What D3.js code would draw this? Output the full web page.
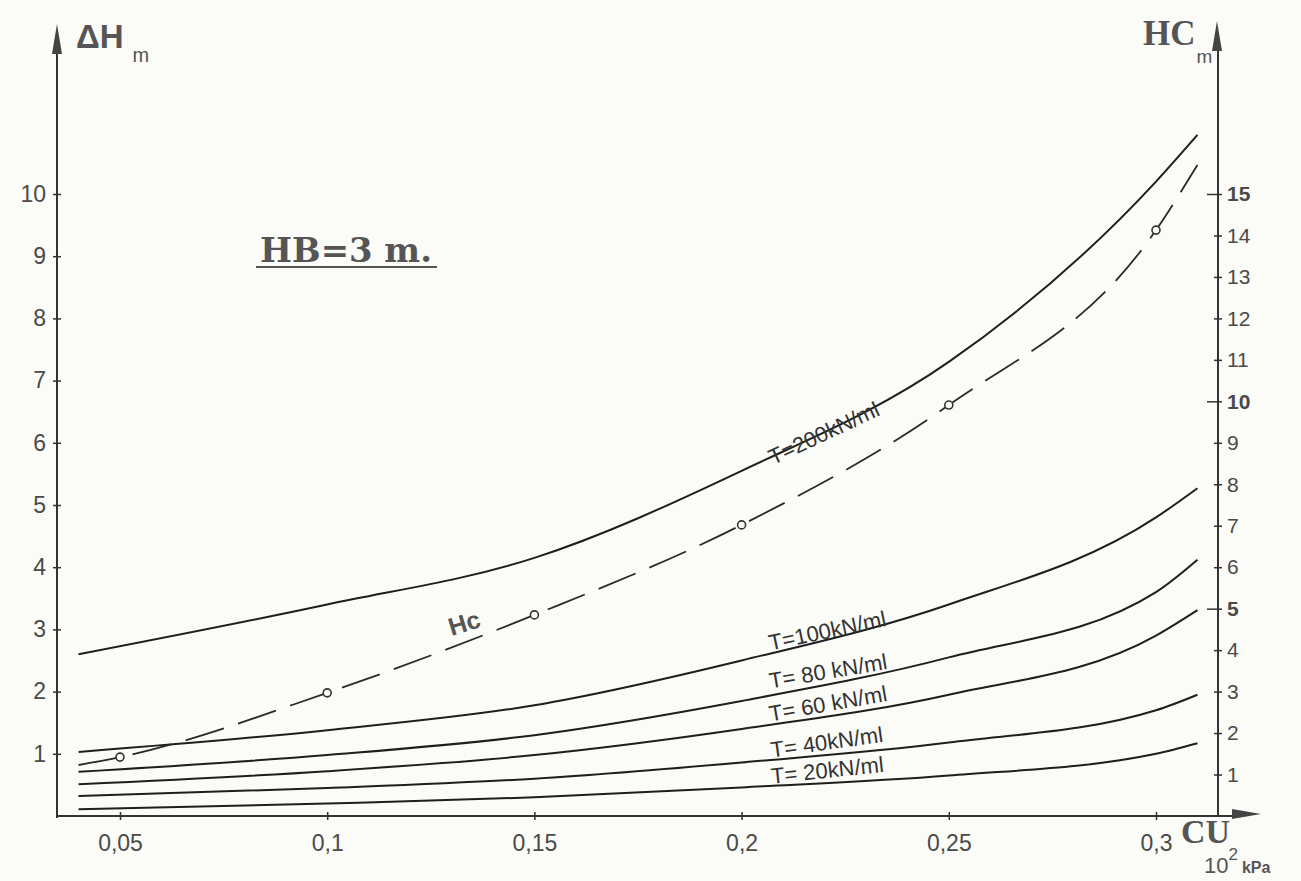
<!DOCTYPE html>
<html><head><meta charset="utf-8">
<script src="https://cdn.jsdelivr.net/npm/d3@7"></script>
<style>
body{margin:0;background:#fbfbf7;}
svg{display:block;}
</style></head>
<body>
<svg id="c" width="1301" height="881"></svg>
<script>
// ---- data ----
const cu      = [0.04, 0.1, 0.15, 0.2, 0.25, 0.3, 0.31];
const t200    = [2.60, 3.40, 4.15, 5.55, 7.30, 10.20, 10.95];
const t100    = [1.03, 1.38, 1.78, 2.50, 3.40, 4.80, 5.27];
const t80     = [0.71, 0.98, 1.30, 1.85, 2.55, 3.60, 4.12];
const t60     = [0.51, 0.72, 0.98, 1.40, 1.95, 2.90, 3.31];
const t40     = [0.32, 0.45, 0.60, 0.86, 1.18, 1.70, 1.95];
const t20     = [0.11, 0.20, 0.30, 0.46, 0.65, 1.00, 1.17];
const hcCU    = [0.04, 0.05, 0.1, 0.15, 0.2, 0.25, 0.3, 0.31];
const hcVals  = [1.23, 1.42, 2.97, 4.85, 7.02, 9.91, 14.13, 15.7];
const hcMarkCU = [0.05, 0.1, 0.15, 0.2, 0.25, 0.3];
const xTicks  = [0.05, 0.1, 0.15, 0.2, 0.25, 0.3];
const xTickLabels = ["0,05", "0,1", "0,15", "0,2", "0,25", "0,3"];
const yLTicks = [1,2,3,4,5,6,7,8,9,10];
const yRTicks = [1,2,3,4,5,6,7,8,9,10,11,12,13,14,15];
const seriesNames = ["T=200kN/ml","T=100kN/ml","T= 80 kN/ml","T= 60 kN/ml","T= 40kN/ml","T= 20kN/ml"];
// label anchors (CU, ΔH, rotation)
const labelCU  = [0.2076, 0.207, 0.207, 0.207, 0.2073, 0.2073];
const labelVal = [5.64, 2.66, 2.05, 1.52, 0.94, 0.52];
const labelRot = [-25, -12, -9.5, -10, -8, -6];

// ---- scales ----
const svg = d3.select("#c");
const x  = d3.scaleLinear().domain([0.05, 0.3]).range([120, 1156]);
const yL = d3.scaleLinear().domain([0, 10]).range([816, 194]);
const yR = d3.scaleLinear().domain([0, 15]).range([816, 194]);
const axisCol = "#333", txtCol = "#4a4a4a", lineCol = "#1e1e1e";
const x0 = 57, x1 = 1218, yBase = 816;
const sans = "Liberation Sans, Arial, sans-serif";

// ---- axes ----
const ax = svg.append("g");
ax.append("line").attr("x1", x0).attr("x2", x0).attr("y1", yBase+2).attr("y2", 40)
  .attr("stroke", axisCol).attr("stroke-width", 2);
ax.append("path").attr("d", `M${x0},24 L${x0-5},54 L${x0+5},54 Z`).attr("fill", "#444");
ax.append("line").attr("x1", x0).attr("x2", 1240).attr("y1", yBase).attr("y2", yBase)
  .attr("stroke", axisCol).attr("stroke-width", 2);
ax.append("path").attr("d", `M1261,${yBase-2} L1232,${yBase-7} L1232,${yBase+3} Z`).attr("fill", "#444");
ax.append("line").attr("x1", x1).attr("x2", x1).attr("y1", yBase).attr("y2", 38)
  .attr("stroke", axisCol).attr("stroke-width", 2);
ax.append("path").attr("d", `M${x1-1},21 L${x1-6},51 L${x1+4},51 Z`).attr("fill", "#444");

// left axis ticks
const gL = svg.append("g").attr("transform", `translate(${x0},0)`)
  .call(d3.axisLeft(yL).tickValues(yLTicks).tickSize(4).tickPadding(8));
gL.select(".domain").remove();
gL.selectAll(".tick line").attr("x1", 4).attr("x2", -4).attr("stroke", axisCol).attr("stroke-width", 1.5);
gL.selectAll(".tick text").attr("font-family", sans)
  .attr("font-size", 23).attr("fill", txtCol).attr("x", -11);

// right axis ticks
const gR = svg.append("g").attr("transform", `translate(${x1},0)`)
  .call(d3.axisRight(yR).tickValues(yRTicks).tickSize(4).tickPadding(6));
gR.select(".domain").remove();
gR.selectAll(".tick line").attr("x1", d => d % 5 === 0 ? -11 : -4).attr("x2", 4)
  .attr("stroke", axisCol).attr("stroke-width", 1.5);
gR.selectAll(".tick text").attr("font-family", sans)
  .attr("font-size", 21).attr("fill", txtCol).attr("x", 9)
  .attr("font-weight", d => d % 5 === 0 ? "bold" : "normal");

// bottom axis ticks
const gB = svg.append("g").attr("transform", `translate(0,${yBase})`)
  .call(d3.axisBottom(x).tickValues(xTicks).tickFormat((d,i) => xTickLabels[i]).tickSize(4).tickPadding(15));
gB.select(".domain").remove();
gB.selectAll(".tick line").attr("y1", -4).attr("y2", 4).attr("stroke", axisCol).attr("stroke-width", 1.5);
gB.selectAll(".tick text").attr("font-family", sans)
  .attr("font-size", 23).attr("fill", txtCol);

// ---- curves ----
const allSeries = [t200, t100, t80, t60, t40, t20];
const line = d3.line().x(d => x(d[0])).y(d => yL(d[1])).curve(d3.curveMonotoneX);
allSeries.forEach((s, i) => {
  svg.append("path").datum(cu.map((c, j) => [c, s[j]]))
    .attr("d", line).attr("fill", "none").attr("stroke", lineCol).attr("stroke-width", 2);
  svg.append("text")
    .attr("transform", `translate(${x(labelCU[i])},${yL(labelVal[i])}) rotate(${labelRot[i]})`)
    .attr("font-family", sans).attr("font-size", 22)
    .attr("fill", "#333").text(seriesNames[i]);
});

// Hc dashed line (right scale)
const lineR = d3.line().x(d => x(d[0])).y(d => yR(d[1])).curve(d3.curveMonotoneX);
svg.append("path").datum(hcCU.map((c, j) => [c, hcVals[j]]))
  .attr("d", lineR).attr("fill", "none").attr("stroke", "#2a2a2a").attr("stroke-width", 1.8)
  .attr("stroke-dasharray", "40,15");
const hcAt = c => hcVals[hcCU.indexOf(c)];
svg.selectAll("circle.hc").data(hcMarkCU).enter().append("circle")
  .attr("cx", d => x(d)).attr("cy", d => yR(hcAt(d))).attr("r", 4)
  .attr("fill", "#fbfbf7").attr("stroke", "#333").attr("stroke-width", 1.6);
svg.append("text")
  .attr("transform", `translate(${x(0.130)},${yR(4.34)}) rotate(-17)`)
  .attr("font-family", sans).attr("font-size", 25).attr("font-weight", "bold")
  .attr("fill", "#555").text("Hc");

// ---- titles ----
svg.append("text").attr("x", 260).attr("y", 262)
  .attr("font-family", "DejaVu Serif, serif").attr("font-weight", "bold").attr("font-size", 34)
  .attr("fill", "#555").attr("textLength", 172).attr("lengthAdjust", "spacingAndGlyphs").text("HB=3 m.");
svg.append("line").attr("x1", 256).attr("x2", 437).attr("y1", 267).attr("y2", 267)
  .attr("stroke", "#555").attr("stroke-width", 2);

const yt = svg.append("text").attr("x", 76).attr("y", 48)
  .attr("font-family", sans).attr("font-weight", "bold").attr("fill", "#555");
yt.append("tspan").attr("font-size", 33).text("ΔH");
yt.append("tspan").attr("font-size", 20).attr("font-weight", "normal").attr("dx", 9).attr("dy", 14).text("m");

const hr = svg.append("text").attr("x", 1143).attr("y", 45)
  .attr("font-family", "Liberation Serif, serif").attr("font-weight", "bold").attr("fill", "#555");
hr.append("tspan").attr("font-size", 35).text("HC");
hr.append("tspan").attr("font-family", sans).attr("font-weight", "normal").attr("font-size", 19)
  .attr("dx", 1).attr("dy", 18).text("m");

svg.append("text").attr("x", 1181).attr("y", 843)
  .attr("font-family", "Liberation Serif, serif").attr("font-weight", "bold").attr("fill", "#555")
  .attr("font-size", 34).attr("textLength", 49).attr("lengthAdjust", "spacingAndGlyphs").text("CU");
const xu = svg.append("text").attr("x", 1204).attr("y", 873)
  .attr("font-family", sans).attr("fill", "#555");
xu.append("tspan").attr("font-size", 22).text("10");
xu.append("tspan").attr("font-size", 17).attr("dy", -13).text("2");
xu.append("tspan").attr("font-size", 16).attr("font-weight", "bold").attr("dx", 4).attr("dy", 13).text("kPa");
</script>
</body></html>
